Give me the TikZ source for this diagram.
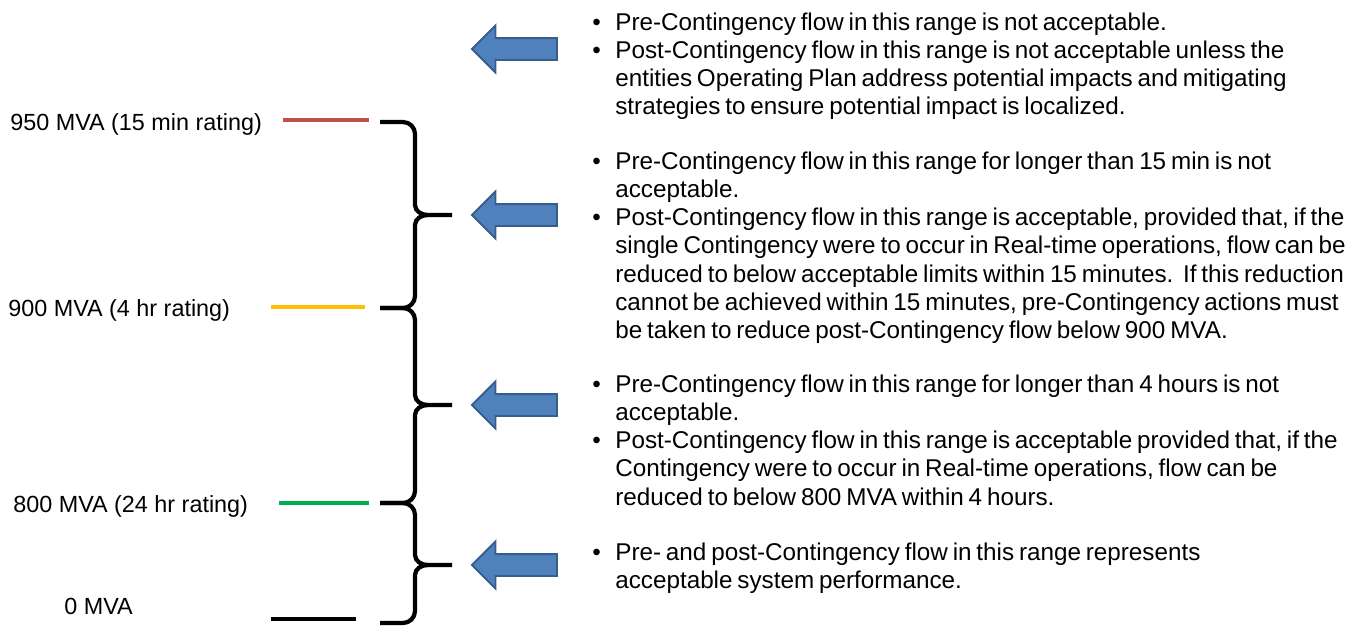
\documentclass[tikz,border=0pt]{standalone}
\usepackage{fontspec}
\setmainfont{Liberation Sans}
\usetikzlibrary{shapes.arrows}

\definecolor{arrowblue}{HTML}{4F81BD}
\definecolor{arrowedge}{HTML}{385D8A}
\definecolor{ratingred}{HTML}{C0504D}
\definecolor{ratinggold}{HTML}{FFC000}
\definecolor{ratinggreen}{HTML}{00B050}

\newcommand{\itemdot}{\makebox[0.46cm][l]{\textbullet}}
\newcommand{\itemgap}{\hspace*{0.46cm}}
\newcommand{\notespacing}{\spaceskip=0.2em\relax}

\tikzset{
  level/.style={line width=2.3pt},
  rangebrace/.style={line width=2.4pt, line join=round},
  pointer/.style={single arrow, shape border rotate=180, draw=arrowedge,
    fill=arrowblue, line width=1.1pt, inner sep=0pt, inner ysep=0.2cm,
    single arrow head extend=0.25cm, minimum height=1.7cm},
  rating/.style={anchor=base west, inner sep=0pt,
    font=\fontsize{13.3}{16}\selectfont},
  note/.style={anchor=base west, inner sep=0pt, text width=15.2cm,
    align=left, font=\fontsize{13.8}{16.1}\selectfont,
    execute at begin node=\notespacing},
}

\begin{document}
\begin{tikzpicture}[x=0.02cm, y=-0.02cm]
    \useasboundingbox (0,0) rectangle (1354,626);

    % rating levels
    \node [rating] (r950) at (10,130) {950 MVA (15 min rating)};
    \node [rating] (r900) at (8,316) {900 MVA (4 hr rating)};
    \node [rating] (r800) at (13,512) {800 MVA (24 hr rating)};
    \node [rating] (r0) at (64,614) {0 MVA};
    \draw [level, ratingred] (283,120) -- (369,120);
    \draw [level, ratinggold] (271,307) -- (365,307);
    \draw [level, ratinggreen] (279,503) -- (369,503);
    \draw [level, black] (271,619) -- (356,619);

    % braces between the levels
    \foreach \ya/\yt/\yb in {122/215/308, 308/405/503, 503/565/623} {
        \draw [rangebrace] (380,\ya) -- (403,\ya) to[out=0,in=90] (415,\ya+12)
            -- (415,\yt-10) to[out=-90,in=180] (428,\yt) -- (452,\yt);
        \draw [rangebrace] (428,\yt) to[out=180,in=90] (415,\yt+10)
            -- (415,\yb-12) to[out=-90,in=0] (403,\yb) -- (380,\yb);
    }

    % arrows
    \foreach \y [count=\i] in {49,215,405,565}
        \node [pointer] (arr\i) at (520,\y) {};

    % notes
    \node [note] (note1) at (592,30) {%
        \itemdot Pre-Contingency flow in this range is not acceptable.\\
        \itemdot Post-Contingency flow in this range is not acceptable unless the\\
        \itemgap entities Operating Plan address potential impacts and mitigating\\
        \itemgap strategies to ensure potential impact is localized.};
    \node [note] (note2) at (592,169) {%
        \itemdot Pre-Contingency flow in this range for longer than 15 min is not\\
        \itemgap acceptable.\\
        \itemdot Post-Contingency flow in this range is acceptable, provided that, if the\\
        \itemgap single Contingency were to occur in Real-time operations, flow can be\\
        \itemgap reduced to below acceptable limits within 15 minutes.\ \ If this reduction\\
        \itemgap cannot be achieved within 15 minutes, pre-Contingency actions must\\
        \itemgap be taken to reduce post-Contingency flow below 900 MVA.};
    \node [note] (note3) at (592,392) {%
        \itemdot Pre-Contingency flow in this range for longer than 4 hours is not\\
        \itemgap acceptable.\\
        \itemdot Post-Contingency flow in this range is acceptable provided that, if the\\
        \itemgap Contingency were to occur in Real-time operations, flow can be\\
        \itemgap reduced to below 800 MVA within 4 hours.};
    \node [note] (note4) at (592,560) {%
        \itemdot Pre- and post-Contingency flow in this range represents\\
        \itemgap acceptable system performance.};
\end{tikzpicture}
\end{document}
